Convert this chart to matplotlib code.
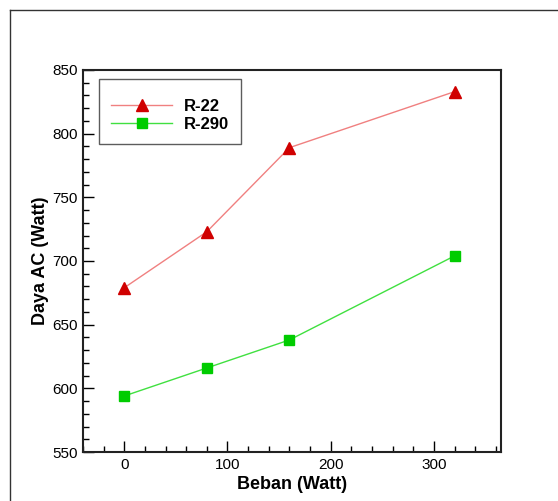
import matplotlib.pyplot as plt
from matplotlib.lines import Line2D
from matplotlib.ticker import MultipleLocator

# data
beban = [0, 80, 160, 320]
daya_r22 = [679, 723, 789, 833]
daya_r290 = [594, 616, 638, 704]

plt.rcParams['font.family'] = ['Liberation Sans', 'DejaVu Sans']

fig = plt.figure(figsize=(5.58, 5.01), dpi=100)
ax = fig.add_axes([83/558, 1 - 452/501, (501-83)/558, (452-70)/501])

ax.plot(beban, daya_r22, color='#f08080', lw=1, marker='^', markersize=8,
        markerfacecolor='#d00000', markeredgecolor='#d00000', label='R-22')
ax.plot(beban, daya_r290, color='#40e040', lw=1, marker='s', markersize=7,
        markerfacecolor='#00cc00', markeredgecolor='#00cc00', label='R-290')

ax.set_xlim(-40, 365)
ax.set_ylim(550, 850)
ax.xaxis.set_major_locator(MultipleLocator(100))
ax.xaxis.set_minor_locator(MultipleLocator(20))
ax.yaxis.set_major_locator(MultipleLocator(50))
ax.yaxis.set_minor_locator(MultipleLocator(10))
ax.tick_params(which='both', direction='in', top=False, right=False, labelsize=11, pad=4)
ax.tick_params(which='major', length=8, width=1)
ax.tick_params(which='minor', length=4, width=1)
for s in ax.spines.values():
    s.set_linewidth(1.5)
    s.set_color('#222222')

ax.set_xlabel('Beban (Watt)', fontsize=13, fontweight='bold', labelpad=3)
ax.set_ylabel('Daya AC (Watt)', fontsize=13, fontweight='bold', labelpad=2)

leg = ax.legend(loc='upper left', bbox_to_anchor=(16/418, 1 - 9/382),
                frameon=True, fancybox=False, edgecolor='#333333',
                prop={'weight': 'bold', 'size': 12}, handlelength=3.7,
                borderpad=0.7, labelspacing=0.2, handletextpad=0.7, borderaxespad=0,
                title=' ', title_fontsize=4)
leg.get_frame().set_linewidth(1)

# outer frame lines
fig.add_artist(Line2D([10/558, 10/558], [0, 1 - 10/501], color='#333333', lw=1))
fig.add_artist(Line2D([10/558, 1], [1 - 10/501, 1 - 10/501], color='#333333', lw=1))

fig.savefig('out.png', dpi=100)
